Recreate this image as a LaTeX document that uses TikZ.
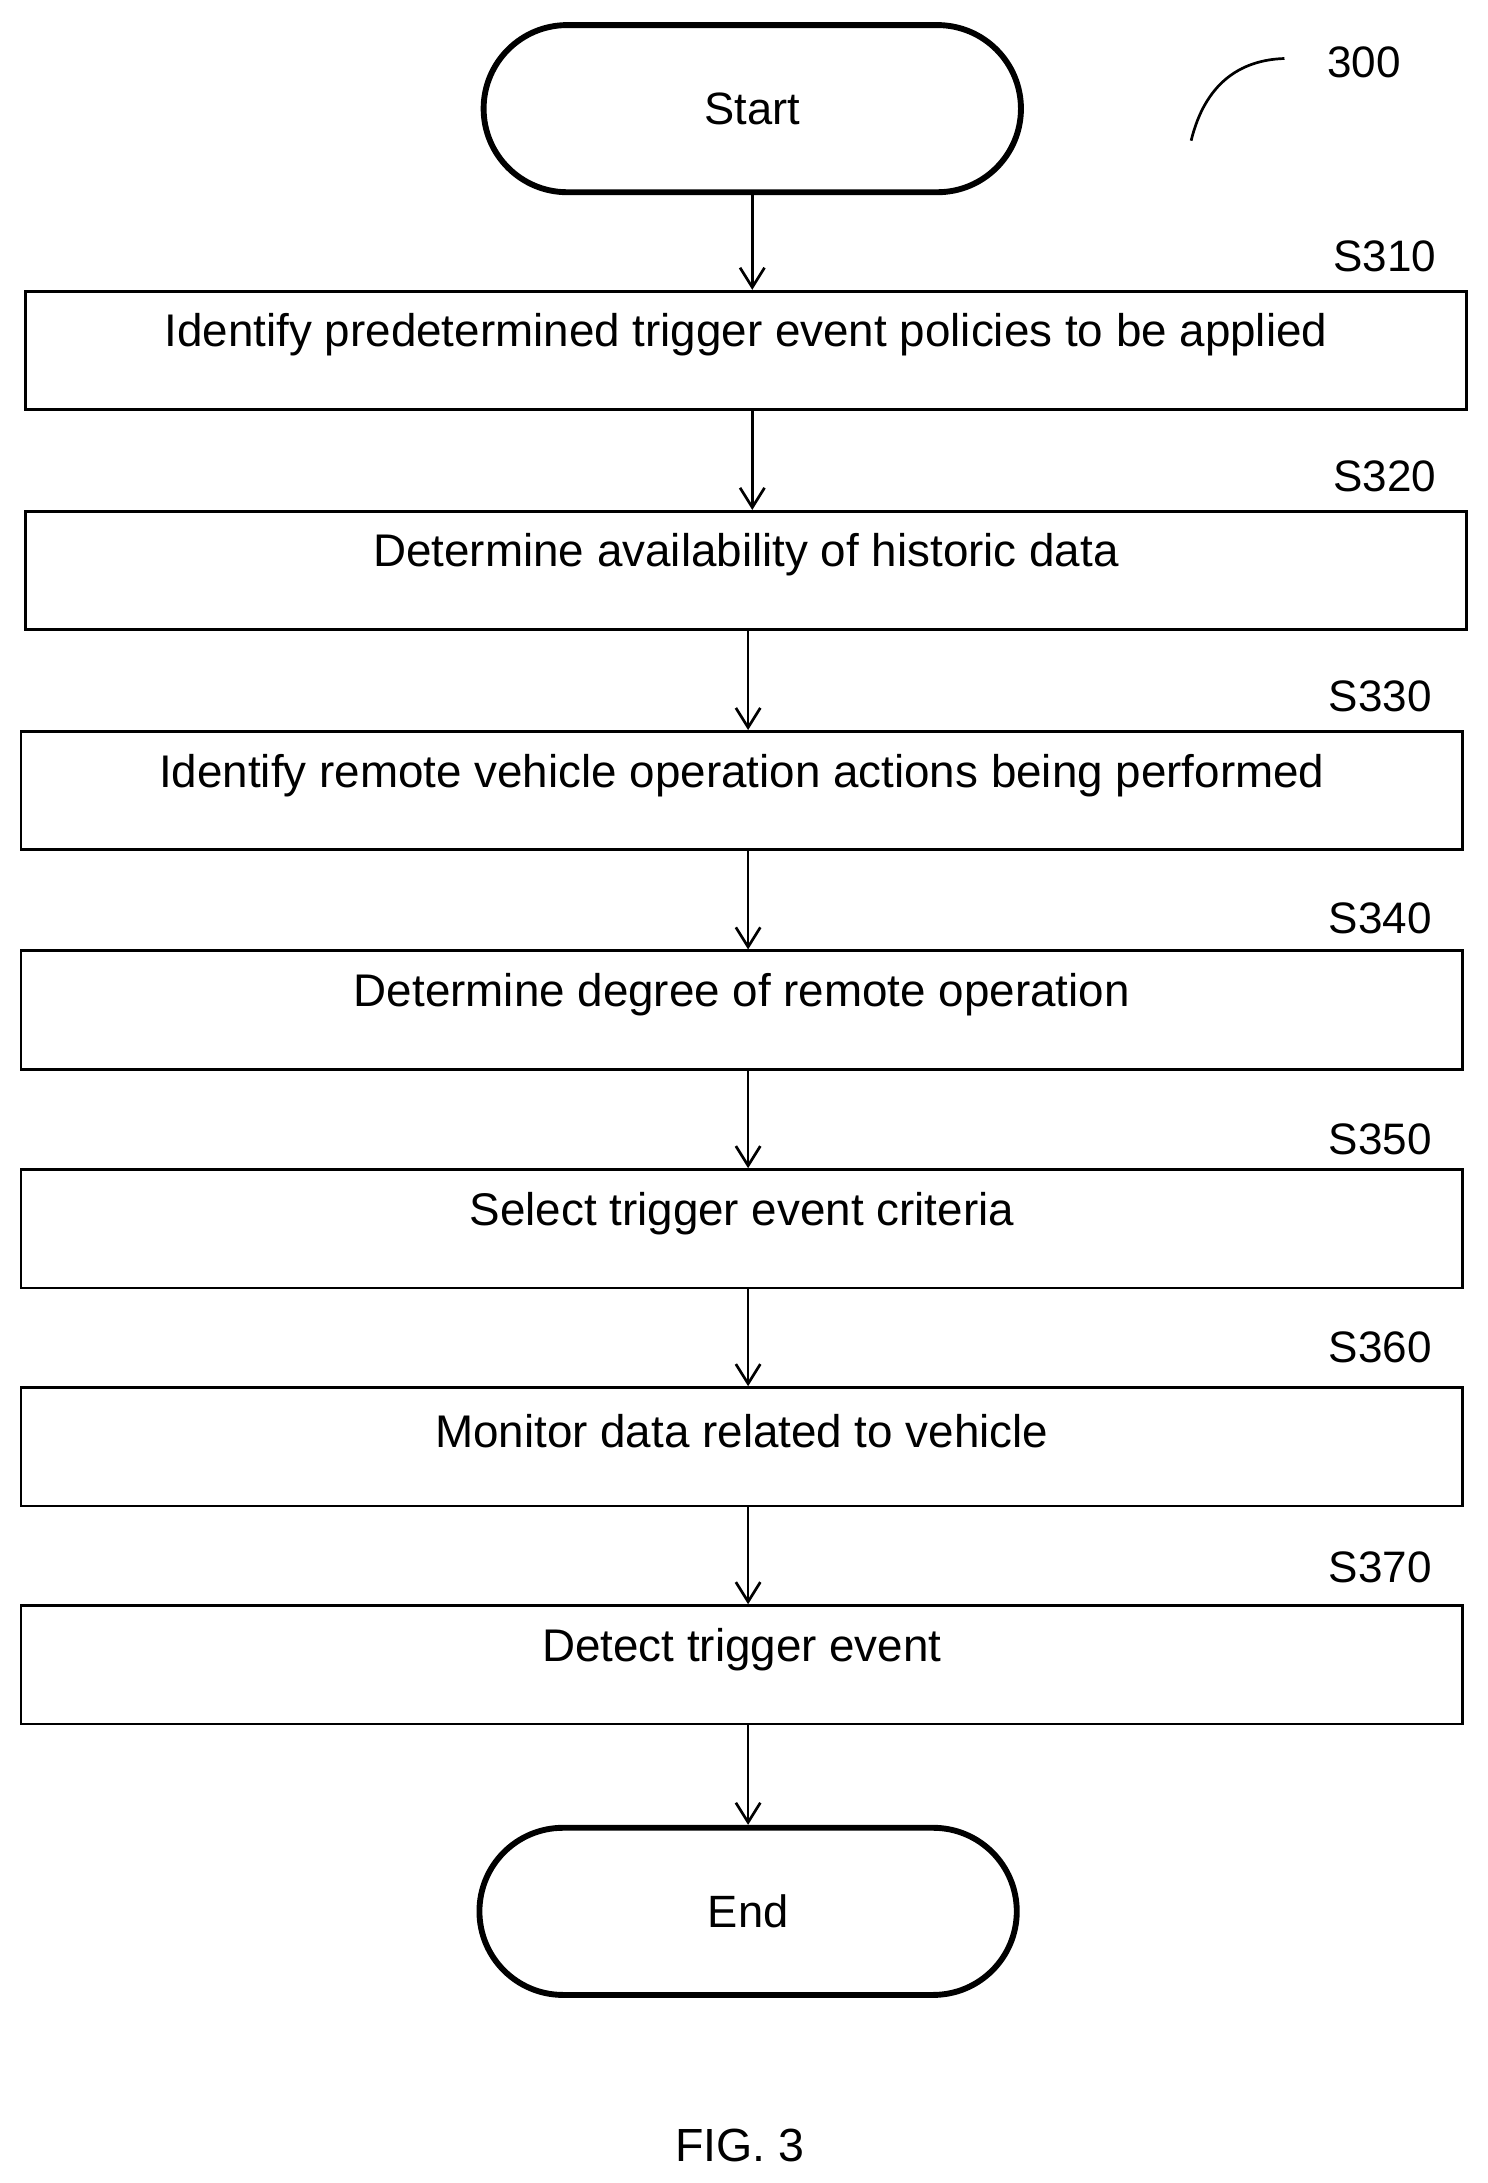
\documentclass[tikz,border=0pt]{standalone}
\usepackage{fontspec}
\setmainfont{Liberation Sans}
\usetikzlibrary{arrows.meta}
\usetikzlibrary{positioning}
\usetikzlibrary{shapes.misc}

\tikzset{
  stepbox/.style={draw, line width=1.1pt, minimum width=20.7cm, minimum height=1.7cm, inner sep=0pt},
  term/.style={draw, rounded rectangle, line width=2.4pt, minimum width=7.95cm, minimum height=2.4cm, font=\fontsize{18.5}{22}\selectfont},
  flow/.style={-{Straight Barb[length=8pt,width=10pt]}, line width=1.1pt},
  tag/.style={anchor=base east, font=\fontsize{18}{21}\selectfont},
  boxtext/.style={yshift=0.22cm, font=\fontsize{18.7}{22}\selectfont}
}

\begin{document}
\begin{tikzpicture}[x=0.02cm, y=-0.02cm]
            \useasboundingbox (0,0) rectangle (1068,1567);
            \node[term] (start) at (540,78) {Start};
            \node[stepbox, label={[boxtext]center:Identify predetermined trigger event policies to be applied}] (s310) at (535.5,251.5) {};
            \node[stepbox, label={[boxtext]center:Determine availability of historic data}] (s320) at (535.5,409.5) {};
            \node[stepbox, label={[boxtext]center:Identify remote vehicle operation actions being performed}] (s330) at (532.5,567.5) {};
            \node[stepbox, label={[boxtext]center:Determine degree of remote operation}] (s340) at (532.5,725) {};
            \node[stepbox, label={[boxtext]center:Select trigger event criteria}] (s350) at (532.5,882) {};
            \node[stepbox, label={[boxtext]center:Monitor data related to vehicle}] (s360) at (532.5,1038.5) {};
            \node[stepbox, label={[boxtext]center:Detect trigger event}] (s370) at (532.5,1195) {};
            \node[term] (end) at (537,1372) {End};
            % step numbers
            \node[tag] at (1037,195) {S310};
            \node[tag] at (1037,353) {S320};
            \node[tag] at (1034,511) {S330};
            \node[tag] at (1034,670) {S340};
            \node[tag] at (1034,829) {S350};
            \node[tag] at (1034,978) {S360};
            \node[tag] at (1034,1136) {S370};
            % arrows
            \draw[flow] (start.south -| 540,0) -- (s310.north -| 540,0);
            \draw[flow] (s310.south -| 540,0) -- (s320.north -| 540,0);
            \draw[flow] (s320.south -| 537,0) -- (s330.north -| 537,0);
            \draw[flow] (s330.south -| 537,0) -- (s340.north -| 537,0);
            \draw[flow] (s340.south -| 537,0) -- (s350.north -| 537,0);
            \draw[flow] (s350.south -| 537,0) -- (s360.north -| 537,0);
            \draw[flow] (s360.south -| 537,0) -- (s370.north -| 537,0);
            \draw[flow] (s370.south -| 537,0) -- (end.north -| 537,0);
            % reference number
            \node[font=\fontsize{18}{21}\selectfont] (ref) at (979,45) {300};
            \draw[line width=1.1pt] (855,101) .. controls (865,60) and (890,43) .. (922,42);
            \node[font=\fontsize{19}{22}\selectfont] (fig) at (531,1540) {FIG. 3};
\end{tikzpicture}
\end{document}
